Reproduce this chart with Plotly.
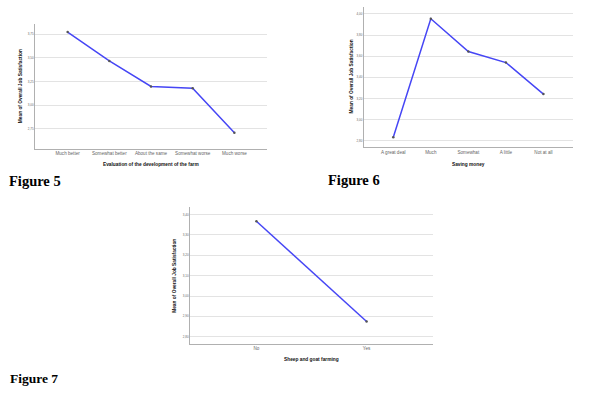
import plotly.graph_objects as go

# ---- data ----
fig5_categories = ["Much better", "Somewhat better", "About the same", "Somewhat worse", "Much worse"]
fig5_values = [3.774, 3.468, 3.197, 3.179, 2.708]
fig5_tickvals = [2.75, 3.00, 3.25, 3.50, 3.75]
fig5_ticktext = ["2,75", "3,00", "3,25", "3,50", "3,75"]

fig6_categories = ["A great deal", "Much", "Somewhat", "A little", "Not at all"]
fig6_values = [2.832, 3.955, 3.645, 3.540, 3.241]
fig6_tickvals = [2.80, 3.00, 3.20, 3.40, 3.60, 3.80, 4.00]
fig6_ticktext = ["2,80", "3,00", "3,20", "3,40", "3,60", "3,80", "4,00"]

fig7_categories = ["No", "Yes"]
fig7_values = [3.3675, 2.875]
fig7_tickvals = [2.80, 2.90, 3.00, 3.10, 3.20, 3.30, 3.40]
fig7_ticktext = ["2,80", "2,90", "3,00", "3,10", "3,20", "3,30", "3,40"]

y_title = "Mean of Overall Job Satisfaction"
fig5_xtitle = "Evaluation of the development of the farm"
fig6_xtitle = "Saving money"
fig7_xtitle = "Sheep and goat farming"

W, H = 590, 396
LINE = "rgb(70,70,245)"
GRID = "#e3e3e3"
AXIS = "#b0b0b0"
XTICKFONT = dict(family="Liberation Sans, Arial", size=4.6, color="#666666")
YTICKFONT = dict(family="Liberation Sans, Arial", size=3.0, color="#666666")
TITLEFONT = dict(family="Liberation Sans, Arial", size=4.8, color="#111111")

fig = go.Figure()

panels = [
    # categories, values, tickvals, ticktext, x0,x1,ytop,ybot (px), yrange, xrange
    (fig5_categories, fig5_values, fig5_tickvals, fig5_ticktext, 35.3, 266.7, 24, 148.7, [2.538, 3.859], [-0.775, 4.775]),
    (fig6_categories, fig6_values, fig6_tickvals, fig6_ticktext, 364, 572.7, 6.7, 147, [2.74, 4.069], [-0.78, 4.78]),
    (fig7_categories, fig7_values, fig7_tickvals, fig7_ticktext, 190.3, 432.7, 207.3, 343.7, [2.766, 3.436], [-0.6, 1.6]),
]

layout_axes = {}
for i, (cats, vals, tv, tt, x0, x1, yt, yb, yr, xr) in enumerate(panels, start=1):
    xa = "x" if i == 1 else f"x{i}"
    ya = "y" if i == 1 else f"y{i}"
    fig.add_trace(go.Scatter(
        x=cats, y=vals, xaxis=xa, yaxis=ya, mode="lines+markers",
        line=dict(color=LINE, width=1.5),
        marker=dict(color="#555555", size=2.5),
        showlegend=False, hoverinfo="x+y",
    ))
    xkey = "xaxis" if i == 1 else f"xaxis{i}"
    ykey = "yaxis" if i == 1 else f"yaxis{i}"
    layout_axes[xkey] = dict(
        domain=[x0 / W, x1 / W], anchor=ya, type="category",
        range=xr, showgrid=False, zeroline=False,
        showline=True, linecolor=AXIS, linewidth=1,
        ticks="", tickfont=XTICKFONT, fixedrange=True,
    )
    layout_axes[ykey] = dict(
        domain=[1 - yb / H, 1 - yt / H], anchor=xa,
        range=yr, tickvals=tv, ticktext=tt,
        showgrid=True, gridcolor=GRID, gridwidth=1, zeroline=False,
        showline=True, linecolor=AXIS, linewidth=1,
        ticks="", tickfont=YTICKFONT, fixedrange=True,
    )

annotations = []
def ann(text, x, y, angle=0, font=TITLEFONT, xanchor="center"):
    annotations.append(dict(
        text=text, x=x / W, y=1 - y / H, xref="paper", yref="paper",
        showarrow=False, textangle=angle, font=font, xanchor=xanchor, yanchor="middle",
    ))

# axis titles
ann("<b>" + y_title + "</b>", 20.7, 86.5, -90)
ann("<b>" + fig5_xtitle + "</b>", 151, 164)
ann("<b>" + y_title + "</b>", 351.7, 76.7, -90)
ann("<b>" + fig6_xtitle + "</b>", 468.3, 164)
ann("<b>" + y_title + "</b>", 175, 275.8, -90)
ann("<b>" + fig7_xtitle + "</b>", 311.7, 359)

FIGFONT = dict(family="Liberation Serif, Times New Roman", size=14.5, color="#000000")
ann("<b>Figure 5</b>", 7.0, 181.5, font=FIGFONT, xanchor="left")
ann("<b>Figure 6</b>", 325.5, 180, font=FIGFONT, xanchor="left")
ann("<b>Figure 7</b>", 8.0, 378, font=dict(FIGFONT, size=13.5), xanchor="left")

fig.update_layout(
    width=W, height=H, autosize=False,
    margin=dict(l=0, r=0, t=0, b=0),
    paper_bgcolor="white", plot_bgcolor="white",
    annotations=annotations,
    **layout_axes,
)

fig.write_html(
    "out.html",
    config={"displayModeBar": False},
    post_script="document.body.style.margin='0';document.body.style.overflow='hidden';",
)
